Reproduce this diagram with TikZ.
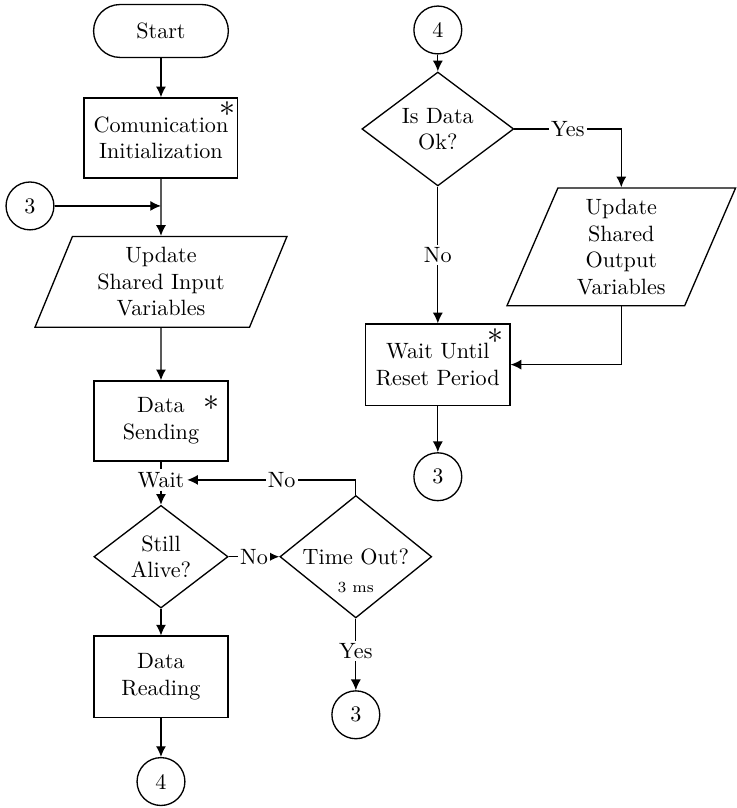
\documentclass[tikz,border=0pt]{standalone}
\usetikzlibrary{shapes.geometric, arrows.meta}

\begin{document}
\begin{tikzpicture}[>={Latex[length=1.7mm, width=1.6mm]}, semithick,
		proc/.style={draw, rectangle, align=center, inner sep=2pt},
		decision/.style={draw, diamond, align=center, inner sep=0pt},
		io/.style={draw, trapezium, trapezium left angle=63, trapezium right angle=117,
			trapezium stretches body, align=center, inner sep=1pt},
		conn/.style={draw, circle, minimum size=0.76cm, inner sep=0pt},
		lbl/.style={fill=white, inner sep=1pt},
		starmark/.style={inner sep=0pt, font=\Large}]
	\useasboundingbox (0,0) rectangle (11.70,-12.83);

	% left column
	\node[draw, rounded corners=0.42cm, minimum width=2.14cm, minimum height=0.84cm] (start) at (2.556,-0.492) {Start};
	\node[proc, minimum width=2.44cm, minimum height=1.27cm] (comm) at (2.556,-2.19) {Comunication\\Initialization};
	\node[starmark] (commast) at (3.61,-1.73) {$\ast$};
	\node[conn] (c3a) at (0.476,-3.27) {3};
	\coordinate (join) at (2.556,-3.27);
	\node[io, minimum width=4.0cm, minimum height=1.44cm] (inp) at (2.556,-4.476) {Update\\Shared Input\\Variables};
	\node[proc, minimum width=2.13cm, minimum height=1.27cm] (send) at (2.556,-6.683) {Data\\Sending};
	\node[starmark] (sendast) at (3.365,-6.40) {$\ast$};
	\node[inner sep=1pt] (wait) at (2.556,-7.62) {Wait};
	\node[decision, minimum width=2.13cm, minimum height=1.35cm] (alive) at (2.556,-8.84) {Still\\Alive?};
	\node[decision, minimum width=2.41cm, minimum height=1.76cm] (timeout) at (5.65,-8.84) {Time Out?};
	\node[inner sep=0pt, font=\scriptsize] (tms) at (5.65,-9.33) {3 ms};
	\node[proc, minimum width=2.13cm, minimum height=1.29cm] (read) at (2.556,-10.746) {Data\\Reading};
	\node[conn] (c4a) at (2.556,-12.41) {4};
	\node[conn] (c3b) at (5.65,-11.35) {3};

	% right column
	\node[conn] (c4b) at (6.952,-0.476) {4};
	\node[decision, minimum width=2.41cm, minimum height=1.56cm] (ok) at (6.952,-2.048) {Is Data\\Ok?};
	\node[io, minimum width=3.63cm, minimum height=1.87cm] (out) at (9.865,-3.92) {Update\\Shared\\Output\\Variables};
	\node[proc, minimum width=2.29cm, minimum height=1.29cm] (reset) at (6.952,-5.79) {Wait Until\\Reset Period};
	\node[starmark] (resetast) at (7.86,-5.33) {$\ast$};
	\node[conn] (c3c) at (6.952,-7.57) {3};

	% connectors
	\draw[->] (start) -- (comm);
	\draw[->] (comm) -- (inp);
	\draw[->] (c3a) -- (join);
	\draw[->] (inp) -- (send);
	\draw (send) -- (wait);
	\draw[->] (wait) -- (alive);
	\draw[->] (alive) -- node[lbl] {No} (timeout);
	\draw[->] (timeout.north) |- node[lbl, pos=0.72] {No} (wait.east);
	\draw[->] (timeout) -- node[lbl, pos=0.45] {Yes} (c3b);
	\draw[->] (alive) -- (read);
	\draw[->] (read) -- (c4a);

	\draw[->] (c4b) -- (ok);
	\draw[->] (ok.east) -| node[lbl, pos=0.25] {Yes} (out);
	\draw[->] (ok) -- node[lbl] {No} (reset);
	\draw[->] (out) |- (reset.east);
	\draw[->] (reset) -- (c3c);
\end{tikzpicture}
\end{document}
